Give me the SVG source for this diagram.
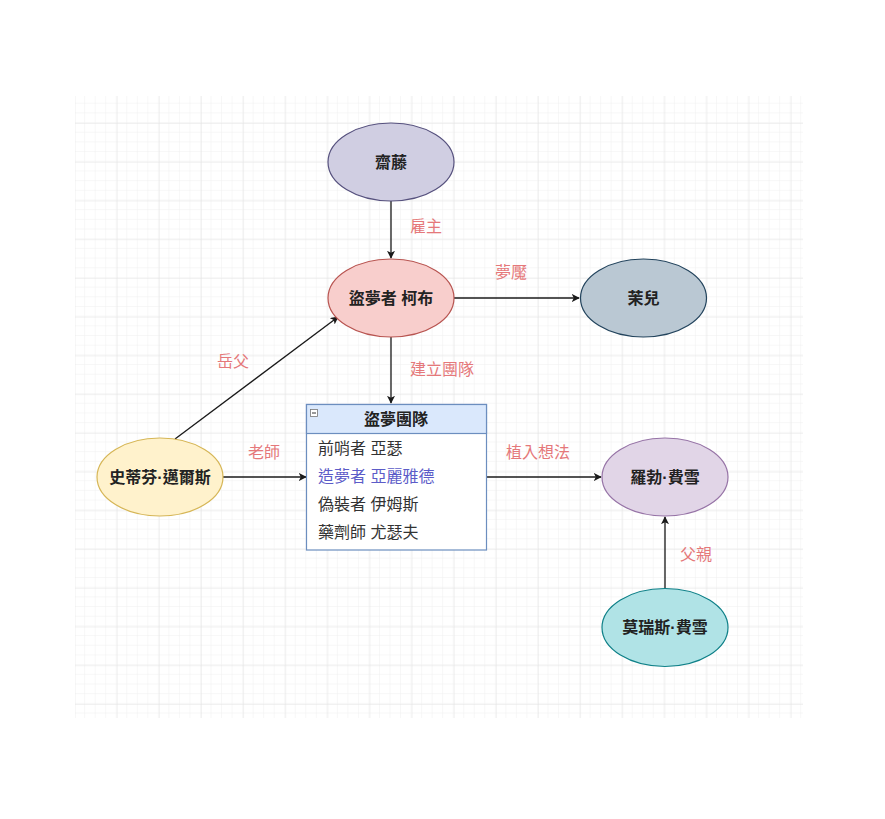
<svg xmlns="http://www.w3.org/2000/svg" width="885" height="819" viewBox="0 0 885 819">
<style>
.nt{font-family:"Liberation Sans","Noto Sans CJK TC",sans-serif;font-size:16px;font-weight:bold;fill:#222;text-anchor:middle;dominant-baseline:central}
.lb{font-family:"Liberation Sans","Noto Sans CJK TC",sans-serif;font-size:16px;fill:#e5787a;text-anchor:middle;dominant-baseline:central}
.rt{font-family:"Liberation Sans","Noto Sans CJK TC",sans-serif;font-size:16px;fill:#333;dominant-baseline:central}
.edge{stroke:#1a1a1a;stroke-width:1.3;fill:none;marker-end:url(#arr)}
</style>
<defs>
<pattern id="minor" width="10.53" height="9.68" patternUnits="userSpaceOnUse" x="74.6" y="84.3">
<path d="M10.53 0V9.68M0 9.68H10.53" stroke="#f0f0f0" stroke-width="1" fill="none"/>
</pattern>
<pattern id="major" width="42.125" height="38.73" patternUnits="userSpaceOnUse" x="74.6" y="84.3">
<path d="M0 0V38.73M0 0H42.125" stroke="#e3e3e3" stroke-width="1" fill="none"/>
</pattern>
<marker id="arr" viewBox="0 0 10 10" refX="9" refY="5" markerWidth="8" markerHeight="8" markerUnits="userSpaceOnUse" orient="auto">
<path d="M0 0L10 5L0 10L2.5 5Z" fill="#1a1a1a"/>
</marker>
</defs>
<rect width="885" height="819" fill="#ffffff"/>
<rect x="75" y="96" width="728" height="622" fill="url(#minor)"/>
<rect x="75" y="96" width="728" height="622" fill="url(#major)"/>

<g id="connectors">
<line class="edge" x1="391" y1="201" x2="391" y2="258"/>
<line class="edge" x1="454" y1="298" x2="579" y2="298"/>
<line class="edge" x1="391" y1="337" x2="391" y2="403"/>
<line class="edge" x1="175" y1="439" x2="338" y2="317"/>
<line class="edge" x1="223" y1="477" x2="306" y2="477"/>
<line class="edge" x1="487" y1="477" x2="601" y2="477"/>
<line class="edge" x1="665" y1="588" x2="665" y2="517"/>
<text class="lb" x="426" y="226">雇主</text>
<text class="lb" x="511" y="272">夢魘</text>
<text class="lb" x="442" y="369">建立團隊</text>
<text class="lb" x="233" y="361">岳父</text>
<text class="lb" x="264" y="452">老師</text>
<text class="lb" x="538" y="452">植入想法</text>
<text class="lb" x="696" y="554">父親</text>
</g>

<g id="saito">
<ellipse cx="391" cy="162" rx="63" ry="39" fill="#d0cee2" stroke="#56517e" stroke-width="1.2"/>
<text class="nt" x="391" y="162">齋藤</text>
</g>
<g id="cobb">
<ellipse cx="391" cy="298" rx="63" ry="39" fill="#f8cecc" stroke="#b85450" stroke-width="1.2"/>
<text class="nt" x="391" y="298">盜夢者 柯布</text>
</g>
<g id="mal">
<ellipse cx="643.5" cy="298" rx="63" ry="39" fill="#bac8d3" stroke="#23445d" stroke-width="1.2"/>
<text class="nt" x="643.5" y="298">茉兒</text>
</g>
<g id="miles">
<ellipse cx="160" cy="477" rx="63" ry="39" fill="#fff2cc" stroke="#d6b656" stroke-width="1.2"/>
<text class="nt" x="160" y="477">史蒂芬·邁爾斯</text>
</g>
<g id="fischer">
<ellipse cx="665" cy="477" rx="63" ry="39" fill="#e1d5e7" stroke="#9673a6" stroke-width="1.2"/>
<text class="nt" x="665" y="477">羅勃·費雪</text>
</g>
<g id="maurice">
<ellipse cx="665" cy="627.5" rx="63" ry="39" fill="#b0e3e6" stroke="#0e8088" stroke-width="1.2"/>
<text class="nt" x="665" y="627.5">莫瑞斯·費雪</text>
</g>

<g id="team">
<rect x="306.5" y="404.5" width="180" height="145.5" fill="#ffffff" stroke="#6c8ebf" stroke-width="1.2"/>
<rect x="306.5" y="404.5" width="180" height="29" fill="#dae8fc" stroke="#6c8ebf" stroke-width="1.2"/>
<rect x="310.5" y="409.5" width="7" height="7" fill="#ffffff" stroke="#777" stroke-width="0.8"/>
<line x1="312" y1="413" x2="316" y2="413" stroke="#333" stroke-width="1"/>
<text class="nt" x="396" y="419">盜夢團隊</text>
<text class="rt" x="318" y="448">前哨者 亞瑟</text>
<text class="rt" x="318" y="476" style="fill:#5c5cc8">造夢者 亞麗雅德</text>
<text class="rt" x="318" y="504">偽裝者 伊姆斯</text>
<text class="rt" x="318" y="532">藥劑師 尤瑟夫</text>
</g>
</svg>
